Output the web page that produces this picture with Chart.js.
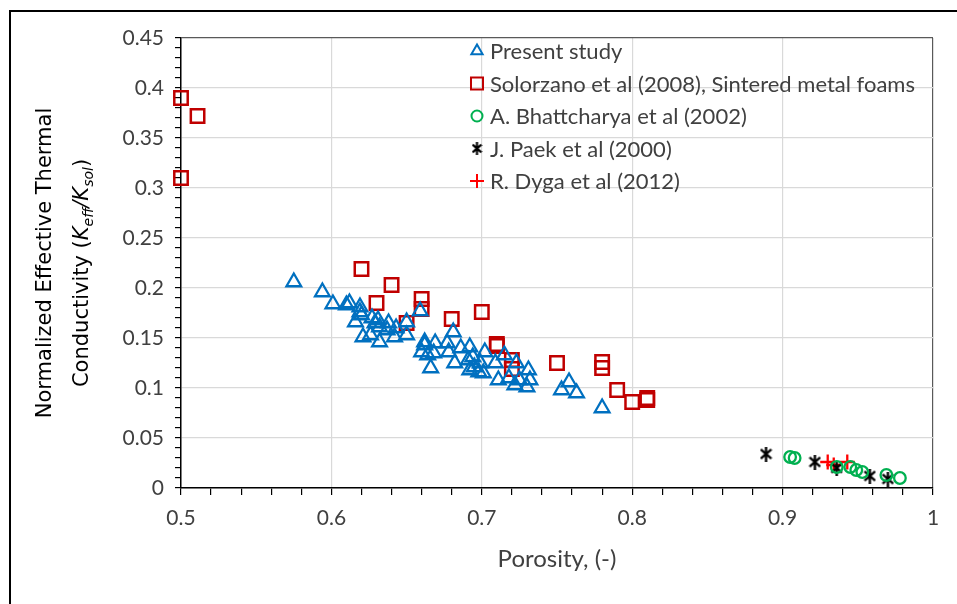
<!DOCTYPE html>
<html>
<head>
<meta charset="utf-8">
<script src="https://cdn.jsdelivr.net/npm/chart.js@4/dist/chart.umd.min.js"></script>
<style>
html,body{margin:0;padding:0;background:#fff;}
#wrap{position:relative;width:957px;height:604px;}
</style>
</head>
<body>
<div id="wrap"><canvas id="c" width="957" height="604"></canvas></div>
<script>
// ---- data ----
const xTickLabels = [0.5, 0.6, 0.7, 0.8, 0.9, 1];
const yTickLabels = [0, 0.05, 0.1, 0.15, 0.2, 0.25, 0.3, 0.35, 0.4, 0.45];

const seriesNames = [
  "Present study",
  "Solorzano et al (2008), Sintered metal foams",
  "A. Bhattcharya et al (2002)",
  "J. Paek et al (2000)",
  "R. Dyga et al (2012)"
];

const presentX = [0.575,0.594,0.601,0.610,0.612,0.619,0.619,0.616,0.620,0.627,0.629,0.631,0.632,0.621,0.626,0.632,0.638,0.637,0.643,0.642,0.650,0.650,0.659,0.662,0.660,0.664,0.681,0.662,0.669,0.668,0.666,0.677,0.678,0.686,0.682,0.692,0.691,0.694,0.692,0.695,0.699,0.698,0.701,0.702,0.709,0.711,0.715,0.718,0.723,0.722,0.725,0.731,0.732,0.730,0.758,0.753,0.763,0.780];
const presentY = [0.206,0.196,0.184,0.183,0.185,0.181,0.176,0.166,0.173,0.170,0.165,0.168,0.161,0.151,0.153,0.146,0.165,0.158,0.160,0.151,0.166,0.153,0.177,0.146,0.136,0.133,0.156,0.143,0.145,0.135,0.120,0.145,0.136,0.140,0.125,0.141,0.128,0.131,0.118,0.121,0.125,0.116,0.115,0.136,0.125,0.108,0.133,0.110,0.125,0.103,0.108,0.118,0.108,0.101,0.106,0.098,0.095,0.080];

const solorzanoX = [0.500,0.511,0.500,0.620,0.640,0.630,0.660,0.660,0.650,0.680,0.700,0.710,0.710,0.720,0.720,0.750,0.780,0.780,0.790,0.800,0.810,0.810];
const solorzanoY = [0.390,0.372,0.310,0.219,0.203,0.185,0.189,0.179,0.165,0.169,0.176,0.144,0.142,0.128,0.119,0.125,0.126,0.120,0.098,0.086,0.090,0.088];

const bhattX = [0.905,0.908,0.936,0.945,0.949,0.953,0.969,0.978];
const bhattY = [0.031,0.030,0.021,0.021,0.018,0.016,0.013,0.010];

const paekX = [0.889,0.9215,0.936,0.958,0.970];
const paekY = [0.034,0.026,0.020,0.012,0.009];

const dygaX = [0.930,0.934,0.943];
const dygaY = [0.026,0.023,0.026];

// ---- helpers ----
function pts(xs, ys){ return xs.map((x,i)=>({x:x, y:ys[i]})); }

function makeAsterisk(w, h, lw){
  const cv = document.createElement('canvas');
  cv.width = w; cv.height = h;
  const g = cv.getContext('2d');
  g.strokeStyle = '#000'; g.lineWidth = lw; g.lineCap = 'butt';
  const cx = w/2, cy = h/2, dx = w/2 - lw/2, dyy = h/2 - lw - 0.5;
  g.beginPath();
  g.moveTo(cx-dx, cy-dyy); g.lineTo(cx+dx, cy+dyy);
  g.moveTo(cx+dx, cy-dyy); g.lineTo(cx-dx, cy+dyy);
  g.moveTo(cx, 0); g.lineTo(cx, h);
  g.stroke();
  return cv;
}
const asterBig = makeAsterisk(13, 15, 2.4);
const asterSmall = makeAsterisk(11, 13, 2.2);

const FONT = "Lato, 'Liberation Sans', sans-serif";
const TXT = '#404040';

const near = (v, step) => Math.abs(v/step - Math.round(v/step)) < 1e-6;

const legendMarkers = [
  {style:'triangle', color:'#0070C0', r:6.5, bw:2},
  {style:'rect', color:'#C00000', r:8.5, bw:2},
  {style:'circle', color:'#00B050', r:5.5, bw:2},
  {style:asterSmall, color:'#000', r:6, bw:2},
  {style:'cross', color:'#FF0000', r:7, bw:2}
];

const framePlugin = {
  id:'frame',
  beforeDraw(chart){
    const ctx = chart.ctx;
    ctx.save();
    ctx.fillStyle = '#fff';
    ctx.fillRect(0,0,chart.width,chart.height);
    ctx.strokeStyle = '#000'; ctx.lineWidth = 2;
    ctx.strokeRect(10, 11, 1200, 1200);
    ctx.restore();
  }
};

const titlePlugin = {
  id:'ytitle',
  afterDraw(chart){
    const ctx = chart.ctx;
    const ca = chart.chartArea;
    const cy = (ca.top + ca.bottom)/2;
    ctx.save();
    ctx.fillStyle = '#000';
    ctx.textBaseline = 'middle';
    ctx.translate(46, cy);
    ctx.rotate(-Math.PI/2);
    ctx.font = "21px 'DejaVu Sans'";
    ctx.textAlign = 'center';
    ctx.fillText('Normalized Effective Thermal', 0, 0);
    ctx.restore();

    ctx.save();
    ctx.translate(80, cy + 10);
    ctx.rotate(-Math.PI/2);
    ctx.fillStyle = '#000';
    ctx.textBaseline = 'alphabetic';
    const main = "21px 'DejaVu Sans'";
    const ital = "italic 21px 'DejaVu Sans'";
    const sub = "italic 14px 'DejaVu Sans'";
    const parts = [
      {t:'Conductivity (', f:main, dy:0},
      {t:'K', f:ital, dy:0},
      {t:'eff', f:sub, dy:5},
      {t:'/', f:ital, dy:0},
      {t:'K', f:ital, dy:0},
      {t:'sol', f:sub, dy:5},
      {t:')', f:main, dy:0}
    ];
    let total = 0;
    parts.forEach(p=>{ ctx.font = p.f; p.w = ctx.measureText(p.t).width; total += p.w; });
    let x = -total/2;
    parts.forEach(p=>{ ctx.font = p.f; ctx.textAlign='left'; ctx.fillText(p.t, x, 8 + p.dy); x += p.w; });
    ctx.restore();

    // legend
    ctx.save();
    const lx = 477, tx = 490, y0 = 51, dy = 32.5;
    seriesNames.forEach((name, i)=>{
      const m = legendMarkers[i];
      const y = y0 + i*dy;
      ctx.save();
      ctx.strokeStyle = m.color; ctx.fillStyle = 'rgba(0,0,0,0)'; ctx.lineWidth = m.bw;
      Chart.helpers.drawPoint(ctx, {pointStyle:m.style, radius:m.r, borderWidth:m.bw, rotation:0}, lx, y);
      ctx.restore();
      ctx.font = '22px ' + FONT;
      ctx.fillStyle = TXT;
      ctx.textAlign = 'left'; ctx.textBaseline = 'middle';
      ctx.fillText(name, tx, y + 1);
    });
    ctx.restore();
  }
};

const hollow = 'rgba(0,0,0,0)';

new Chart(document.getElementById('c'), {
  type:'scatter',
  data:{
    datasets:[
      {label:seriesNames[0], data:pts(presentX,presentY), pointStyle:'triangle', pointRadius:8.5, pointBorderWidth:2.3, borderColor:'#0070C0', backgroundColor:hollow, pointBackgroundColor:hollow, clip:false},
      {label:seriesNames[1], data:pts(solorzanoX,solorzanoY), pointStyle:'rect', pointRadius:9.5, pointBorderWidth:2.5, borderColor:'#C00000', backgroundColor:hollow, pointBackgroundColor:hollow, clip:false},
      {label:seriesNames[2], data:pts(bhattX,bhattY), pointStyle:'circle', pointRadius:5.8, pointBorderWidth:2.3, borderColor:'#00B050', backgroundColor:hollow, pointBackgroundColor:hollow, clip:false},
      {label:seriesNames[3], data:pts(paekX,paekY), pointStyle:asterBig, pointRadius:7, borderColor:'#000', backgroundColor:hollow, clip:false},
      {label:seriesNames[4], data:pts(dygaX,dygaY), pointStyle:'cross', pointRadius:7.5, pointBorderWidth:2.3, borderColor:'#FF0000', backgroundColor:hollow, clip:false}
    ]
  },
  options:{
    responsive:false,
    animation:false,
    events:[],
    layout:{padding:{left:0, top:38, right:24, bottom:30}},
    plugins:{legend:{display:false}, tooltip:{enabled:false}},
    scales:{
      x:{
        type:'linear', min:0.5, max:1,
        afterFit(s){ s.height = 86; },
        afterBuildTicks(s){
          const t=[]; for(let i=0;i<=25;i++){ t.push({value: Math.round((0.5+i*0.02)*1000)/1000}); } s.ticks = t;
        },
        ticks:{
          autoSkip:false, maxRotation:0, padding:11, color:TXT,
          font:{family:FONT, size:21},
          callback(v){ return xTickLabels.some(t=>Math.abs(t-v)<1e-6) ? String(Math.round(v*10)/10) : ''; }
        },
        grid:{
          color(ctx){ const v=ctx.tick.value; if(Math.abs(v-1)<1e-6) return '#595959'; return near(v,0.1)?'#d9d9d9':'rgba(0,0,0,0)'; },
          tickColor:'#000', tickLength:7, lineWidth:1.2
        },
        border:{color:'#000', width:1.5},
        title:{display:true, text:'Porosity, (-)', color:TXT, font:{family:FONT, size:24}, padding:{top:4, bottom:0}}
      },
      y:{
        type:'linear', min:0, max:0.45,
        afterFit(s){ s.width = 181; },
        afterBuildTicks(s){
          const t=[]; for(let i=0;i<=45;i++){ t.push({value: Math.round(i*0.01*1000)/1000}); } s.ticks = t;
        },
        ticks:{
          autoSkip:false, padding:11, color:TXT,
          font:{family:FONT, size:21},
          callback(v){ return yTickLabels.some(t=>Math.abs(t-v)<1e-6) ? String(Math.round(v*100)/100) : ''; }
        },
        grid:{
          color(ctx){ const v=ctx.tick.value; if(Math.abs(v-0.45)<1e-6) return '#595959'; return near(v,0.05)?'#d9d9d9':'rgba(0,0,0,0)'; },
          tickColor:'#000', tickLength:6, lineWidth:1.2
        },
        border:{color:'#000', width:1.5}
      }
    }
  },
  plugins:[framePlugin, titlePlugin]
});
</script>
</body>
</html>
